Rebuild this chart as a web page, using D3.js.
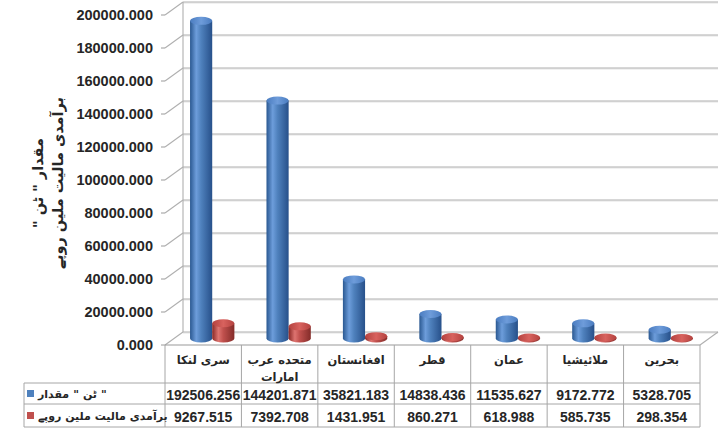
<!DOCTYPE html>
<html><head><meta charset="utf-8">
<script src="https://cdn.jsdelivr.net/npm/d3@7/dist/d3.min.js"></script>
<style>html,body{margin:0;padding:0;background:#fff;}svg{display:block;}</style>
</head><body>
<svg id="chart" width="725" height="438"></svg>
<script>
const categories = ["سری لنکا", "متحده عرب امارات", "افغانستان", "قطر", "عمان", "ملائیشیا", "بحرین"];
const categoryLines = [["سری لنکا"], ["متحده عرب", "امارات"], ["افغانستان"], ["قطر"], ["عمان"], ["ملائیشیا"], ["بحرین"]];
// legend labels as visual pieces, left to right
const seriesPieces = [["مقدار", "\"", "ٹن", "\""], ["برآمدی مالیت ملین روپے"]];
const tons = [192506.256, 144201.871, 35821.183, 14838.436, 11535.627, 9172.772, 5328.705];
const valueMillion = [9267.515, 7392.708, 1431.951, 860.271, 618.988, 585.735, 298.354];
const tonsLabels = ["192506.256", "144201.871", "35821.183", "14838.436", "11535.627", "9172.772", "5328.705"];
const valueLabels = ["9267.515", "7392.708", "1431.951", "860.271", "618.988", "585.735", "298.354"];
const yTicks = [0, 20000, 40000, 60000, 80000, 100000, 120000, 140000, 160000, 180000, 200000];
const yTickLabels = ["0.000", "20000.000", "40000.000", "60000.000", "80000.000", "100000.000", "120000.000", "140000.000", "160000.000", "180000.000", "200000.000"];
const axisTitle1 = "مقدار \" ٹن \"";
const axisTitle2 = "برآمدی مالیت ملین روپے";

const svg = d3.select("#chart");
const FONT = "'Liberation Sans', Arial, 'DejaVu Sans', sans-serif";
const AR = "'DejaVu Sans', 'Liberation Sans', sans-serif";

const x0 = 165, x1 = 700, floorY = 345;
const DX = 18, DY = -13;
const y = d3.scaleLinear().domain([0, 200000]).range([floorY, 15]);
const x = d3.scaleBand().domain(d3.range(categories.length)).range([x0, x1]).padding(0);

const defs = svg.append("defs");
function grad(id, stops) {
  const g = defs.append("linearGradient").attr("id", id).attr("x1", "0%").attr("x2", "100%").attr("y1", "0%").attr("y2", "0%");
  stops.forEach(s => g.append("stop").attr("offset", s[0]).attr("stop-color", s[1]));
}
grad("gBlue", [["0%", "#2A5891"], ["28%", "#6D9DDB"], ["50%", "#4F81BD"], ["100%", "#27508A"]]);
grad("gRed", [["0%", "#8A2825"], ["28%", "#DE7470"], ["50%", "#C0504D"], ["100%", "#842C29"]]);
grad("gBlueTop", [["0%", "#4A7CC0"], ["50%", "#6E9CDA"], ["100%", "#4A7CC0"]]);
grad("gRedTop", [["0%", "#B4423F"], ["50%", "#D8625E"], ["100%", "#B4423F"]]);

const grid = svg.append("g");
yTicks.forEach(t => {
  const yf = y(t), yb = y(t) + DY;
  grid.append("line").attr("x1", x0 + DX).attr("x2", x1 + DX).attr("y1", yb + 1).attr("y2", yb + 1)
    .attr("stroke", "#E4E4E4").attr("stroke-width", 1.2);
  grid.append("line").attr("x1", x0 + DX).attr("x2", x1 + DX).attr("y1", yb).attr("y2", yb)
    .attr("stroke", "#AFAFAF").attr("stroke-width", 1.1);
  grid.append("line").attr("x1", x0).attr("x2", x0 + DX).attr("y1", yf).attr("y2", yb)
    .attr("stroke", "#AFAFAF").attr("stroke-width", 1.1);
  grid.append("line").attr("x1", x0 - 4).attr("x2", x0).attr("y1", yf).attr("y2", yf)
    .attr("stroke", "#9A9A9A").attr("stroke-width", 1);
});
grid.append("line").attr("x1", x0 + DX).attr("x2", x0 + DX).attr("y1", y(0) + DY).attr("y2", y(200000) + DY)
  .attr("stroke", "#AFAFAF").attr("stroke-width", 1.1);
grid.append("line").attr("x1", x1 + DX).attr("y1", y(0) + DY).attr("x2", x1).attr("y2", y(0))
  .attr("stroke", "#AFAFAF").attr("stroke-width", 1.1);
grid.append("line").attr("x1", x0).attr("y1", y(0)).attr("x2", x1).attr("y2", y(0))
  .attr("stroke", "#9A9A9A").attr("stroke-width", 1.1);

svg.append("g").selectAll("text").data(yTicks).join("text")
  .attr("x", 153).attr("y", d => y(d)).attr("dy", "0.36em")
  .attr("text-anchor", "end").attr("font-family", FONT).attr("font-weight", "bold")
  .attr("font-size", 14.5).attr("fill", "#262626")
  .text((d, i) => yTickLabels[i]);

const f = 0.5;
const shiftX = DX * f, shiftY = DY * f;
const bw = x.bandwidth() * 0.29;
const ry = 4;
function cylinder(g, cx, v, side, grd, grdTop) {
  const left = side === 0 ? cx - bw : cx;
  const right = left + bw;
  const rx = bw / 2;
  const base = y(0) + shiftY;
  const top = y(v) + shiftY;
  g.append("path")
    .attr("d", `M${left},${top} L${left},${base} A${rx},${ry} 0 0 0 ${right},${base} L${right},${top} Z`)
    .attr("fill", `url(#${grd})`);
  g.append("ellipse").attr("cx", left + rx).attr("cy", top).attr("rx", rx).attr("ry", ry)
    .attr("fill", `url(#${grdTop})`);
}
const bars = svg.append("g");
categories.forEach((c, i) => {
  const cx = x(i) + x.bandwidth() / 2 + shiftX;
  cylinder(bars, cx, tons[i], 0, "gBlue", "gBlueTop");
  cylinder(bars, cx, valueMillion[i], 1, "gRed", "gRedTop");
});

const tbl = svg.append("g");
const rowY = [383, 404, 427];
const lineColor = "#A6A6A6";
rowY.forEach(r => tbl.append("line").attr("x1", 24).attr("x2", x1).attr("y1", r).attr("y2", r)
  .attr("stroke", lineColor).attr("stroke-width", 1));
tbl.append("line").attr("x1", 24).attr("x2", 24).attr("y1", 383).attr("y2", 427).attr("stroke", lineColor);
d3.range(categories.length + 1).forEach(i => {
  const xx = i < categories.length ? x(i) : x1;
  tbl.append("line").attr("x1", xx).attr("x2", xx).attr("y1", floorY).attr("y2", 427)
    .attr("stroke", lineColor).attr("stroke-width", 1);
});
categoryLines.forEach((lines, i) => {
  lines.forEach((ln, j) => {
    tbl.append("text").attr("x", x(i) + x.bandwidth() / 2).attr("y", 360 + j * 17).attr("dy", "0.35em")
      .attr("text-anchor", "middle").attr("font-family", AR).attr("font-weight", "bold")
      .attr("font-size", 11.5).attr("fill", "#262626").text(ln);
  });
});
[tonsLabels, valueLabels].forEach((arr, r) => {
  arr.forEach((s, i) => {
    tbl.append("text").attr("x", x(i) + x.bandwidth() / 2).attr("y", (rowY[r] + rowY[r + 1]) / 2 + 1).attr("dy", "0.36em")
      .attr("text-anchor", "middle").attr("font-family", FONT).attr("font-weight", "bold")
      .attr("font-size", 14).attr("fill", "#262626").text(s);
  });
});
const keyCol = ["#4F81BD", "#C0504D"];
seriesPieces.forEach((pieces, r) => {
  const cy = (rowY[r] + rowY[r + 1]) / 2;
  tbl.append("rect").attr("x", 27).attr("y", cy - 3.5).attr("width", 7).attr("height", 7).attr("fill", keyCol[r]);
  let cx = 38;
  pieces.forEach(p => {
    const t = tbl.append("text").attr("x", cx).attr("y", cy + 1).attr("dy", "0.35em")
      .attr("text-anchor", "start").attr("font-family", AR).attr("font-weight", "bold")
      .attr("font-size", 11).attr("fill", "#262626").text(p);
    cx += t.node().getComputedTextLength() + 4;
  });
});

[[axisTitle1, 38], [axisTitle2, 58]].forEach(([t, xx]) => {
  svg.append("text").attr("transform", `translate(${xx},183) rotate(-90)`)
    .attr("text-anchor", "middle").attr("direction", "rtl").attr("dominant-baseline", "central")
    .attr("font-family", AR).attr("font-weight", "bold").attr("font-size", 14.5)
    .attr("fill", "#262626").text(t);
});
</script>
</body></html>
